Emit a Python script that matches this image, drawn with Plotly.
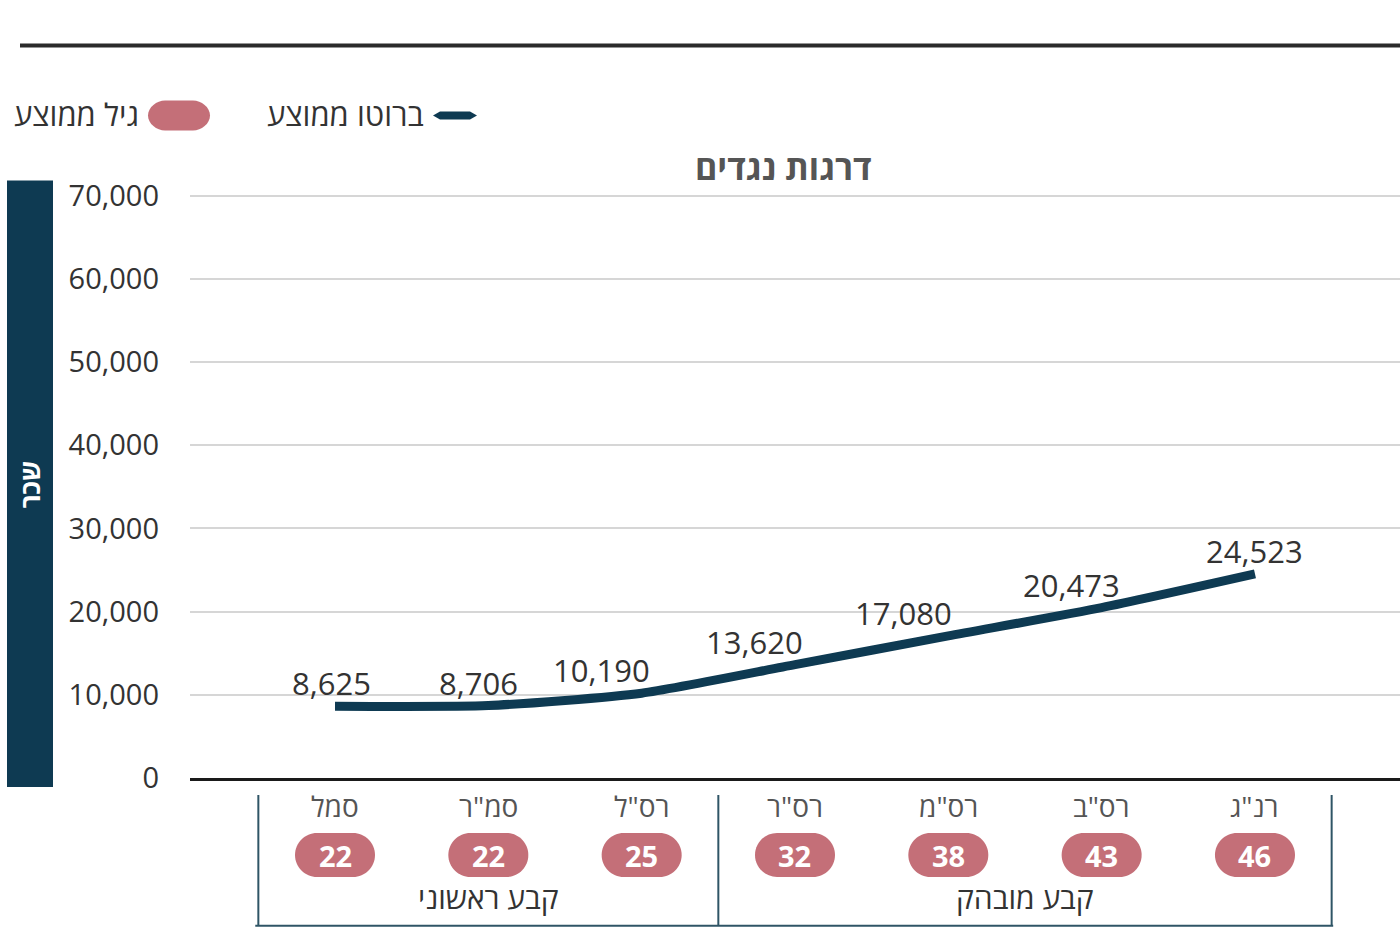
import plotly.graph_objects as go

# ---- data ----
ranks = ['סמל', 'סמ"ר', 'רס"ל', 'רס"ר', 'רס"מ', 'רס"ב', 'רנ"ג']
avg_gross = [8625, 8706, 10190, 13620, 17080, 20473, 24523]
avg_age = [22, 22, 25, 32, 38, 43, 46]
groups = ["קבע ראשוני", "קבע מובהק"]
group_spans = [(0, 2), (3, 6)]  # index ranges of ranks in each group
y_ticks = [0, 10000, 20000, 30000, 40000, 50000, 60000, 70000]

title_text = "דרגות נגדים"
y_title = "שכר"
legend_line = "ברוטו ממוצע"
legend_pill = "גיל ממוצע"

# ---- style ----
W, H = 1400, 946
Y_TOP = 70300
ZERO_PX, TOP_PX = 778, 195          # pixel rows of 0 and 70,000
ppu = (ZERO_PX - TOP_PX) / 70000.0  # pixels per unit
ML, MR = 190, 0
MB = H - ZERO_PX
MT = ZERO_PX - Y_TOP * ppu
NAVY = "#0e3a52"
PINK = "#c46f78"
FONT = "Open Sans, Liberation Sans, DejaVu Sans, sans-serif"
PLOT_W = W - ML - MR
PLOT_H = H - MT - MB

def px_x(px):  # page pixel -> paper x
    return (px - ML) / PLOT_W

def px_y(py):  # page pixel -> paper y
    return (H - MB - py) / PLOT_H

xs = list(range(len(ranks)))
step_px = 153.33
x0 = -(335 - ML) / step_px
x1 = x0 + PLOT_W / step_px

fig = go.Figure()
fig.add_trace(go.Scatter(
    x=xs, y=avg_gross, mode="lines",
    line=dict(color=NAVY, width=9, shape="spline", smoothing=0.6),
    hoverinfo="skip", showlegend=False,
))

def txt(x, y, text, size, color, xref="paper", yref="paper", xanchor="center",
        yanchor="middle", **kw):
    d = dict(x=x, y=y, xref=xref, yref=yref, text=text, showarrow=False,
             xanchor=xanchor, yanchor=yanchor,
             font=dict(family=FONT, size=size, color=color))
    d.update(kw)
    return d

label_dx = [-4, -10, -40, -40, -45, -30, 0]
annotations = []
for i, v in enumerate(avg_gross):
    annotations.append(txt(xs[i], v, f"{v:,}", 31, "#333333", xref="x", yref="y",
                           yanchor="bottom", xshift=label_dx[i], yshift=0))

shapes = []
# top rule
shapes.append(dict(type="line", xref="paper", yref="paper",
                   x0=px_x(20), x1=px_x(1400), y0=px_y(45), y1=px_y(45),
                   line=dict(color="#2b2b2b", width=4)))
# left navy bar
shapes.append(dict(type="rect", xref="paper", yref="paper",
                   x0=px_x(7), x1=px_x(53), y0=px_y(787), y1=px_y(180),
                   fillcolor=NAVY, line=dict(width=0), layer="above"))
annotations.append(txt(px_x(30), px_y(484), f"<b>{y_title}</b>", 26, "white", textangle=-90))

# title
annotations.append(txt(px_x(783), px_y(166), f"<b>{title_text}</b>", 34, "#555555"))

# legend
shapes.append(dict(type="path", xref="paper", yref="paper",
                   path=(f"M {px_x(433)},{px_y(115)} L {px_x(440)},{px_y(111)} L {px_x(470)},{px_y(111)} "
                         f"L {px_x(477)},{px_y(115)} L {px_x(470)},{px_y(119)} L {px_x(440)},{px_y(119)} Z"),
                   fillcolor=NAVY, line=dict(width=0)))
annotations.append(txt(px_x(426), px_y(113), legend_line, 31, "#333333", xanchor="right"))
pill_path = ("M -14,-15 L 14,-15 C 22.3,-15 31,-8.3 31,0 C 31,8.3 22.3,15 14,15 "
             "L -14,15 C -22.3,15 -31,8.3 -31,0 C -31,-8.3 -22.3,-15 -14,-15 Z")
shapes.append(dict(type="path", xref="paper", yref="paper",
                   xsizemode="pixel", ysizemode="pixel",
                   xanchor=px_x(179), yanchor=px_y(115),
                   path=pill_path, fillcolor=PINK, line=dict(width=0)))
annotations.append(txt(px_x(141), px_y(113), legend_pill, 31, "#333333", xanchor="right"))

# x categories, age pills
pill_big = ("M -18,-22 L 18,-22 C 30.1,-22 40,-12.1 40,0 C 40,12.1 30.1,22 18,22 "
            "L -18,22 C -30.1,22 -40,12.1 -40,0 C -40,-12.1 -30.1,-22 -18,-22 Z")
for i, r in enumerate(ranks):
    annotations.append(txt(xs[i], px_y(806), r, 28, "#555555", xref="x"))
    shapes.append(dict(type="path", xref="x", yref="paper",
                       xsizemode="pixel", ysizemode="pixel",
                       xanchor=xs[i], yanchor=px_y(855),
                       path=pill_big, fillcolor=PINK, line=dict(width=0)))
    annotations.append(txt(xs[i], px_y(856), f"<b>{avg_age[i]}</b>", 29, "white", xref="x"))

# group brackets
BR = "#2f5566"
bounds = sorted({group_spans[0][0] - 0.5} | {s[1] + 0.5 for s in group_spans})
for b in bounds:
    shapes.append(dict(type="line", xref="x", yref="paper", x0=b, x1=b,
                       y0=px_y(795), y1=px_y(926), line=dict(color=BR, width=2)))
shapes.append(dict(type="line", xref="x", yref="paper",
                   x0=bounds[0] - 0.02, x1=bounds[-1] + 0.01,
                   y0=px_y(926), y1=px_y(926), line=dict(color=BR, width=2)))
for g, (a, b) in zip(groups, group_spans):
    annotations.append(txt((a + b) / 2, px_y(898), g, 30, "#333333", xref="x"))

fig.update_layout(
    width=W, height=H, margin=dict(l=ML, r=MR, t=MT, b=MB),
    paper_bgcolor="white", plot_bgcolor="white",
    showlegend=False,
    xaxis=dict(range=[x0, x1], showgrid=False, showticklabels=False, zeroline=False,
               showline=True, linecolor="#1a1a1a", linewidth=3, ticks="", fixedrange=True),
    yaxis=dict(range=[0, Y_TOP], tickvals=y_ticks, ticktext=[f"{t:,}" for t in y_ticks],
               showgrid=True, gridcolor="#d6d6d6", gridwidth=2, zeroline=False,
               showline=False, ticks="", ticklabelstandoff=30,
               tickfont=dict(family=FONT, size=29, color="#333333")),
    shapes=shapes, annotations=annotations,
)

fig.write_html("out.html")
